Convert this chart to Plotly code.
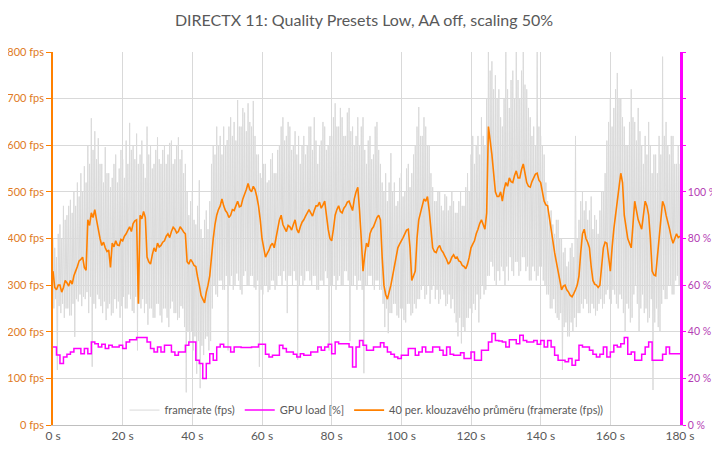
import plotly.graph_objects as go

title_text = "DIRECTX 11: Quality Presets Low, AA off, scaling 50%"

# framerate samples every 0.25 s (fps), one row per 5 s
framerate = [
    400, 250, 380, 270, 360, 118, 410, 255, 430, 240, 400, 260, 470, 230, 440, 250, 450, 250, 470, 235,
    483, 235, 455, 260, 500, 189, 470, 270, 520, 265, 490, 280, 540, 255, 500, 275, 555, 270, 520, 285,
    600, 240, 560, 275, 658, 125, 590, 260, 630, 250, 570, 280, 615, 270, 560, 255, 560, 240, 520, 265,
    596, 225, 540, 250, 540, 260, 510, 235, 530, 240, 560, 270, 580, 250, 520, 265, 550, 230, 590, 255,
    570, 275, 530, 250, 610, 250, 560, 280, 648, 270, 590, 245, 600, 240, 570, 275, 625, 160, 560, 260,
    580, 250, 610, 270, 560, 240, 530, 260, 640, 215, 580, 250, 600, 250, 550, 230, 560, 230, 590, 260,
    617, 260, 570, 235, 560, 220, 590, 250, 600, 250, 560, 230, 580, 210, 605, 250, 610, 265, 560, 240,
    570, 240, 600, 225, 617, 230, 570, 255, 590, 250, 540, 210, 560, 70, 500, 200, 450, 180, 480, 200,
    500, 160, 440, 190, 430, 110, 470, 180, 525, 79, 420, 170, 400, 150, 440, 185, 460, 190, 420, 160,
    480, 180, 560, 250, 600, 300, 580, 280, 640, 275, 600, 310, 620, 310, 580, 290, 640, 290, 600, 320,
    611, 160, 640, 300, 660, 320, 620, 290, 650, 300, 610, 325, 697, 310, 640, 290, 640, 280, 680, 320,
    670, 330, 630, 300, 690, 300, 650, 320, 640, 320, 695, 295, 620, 290, 580, 310, 580, 125, 540, 290,
    530, 280, 560, 300, 560, 300, 520, 285, 525, 290, 570, 310, 583, 310, 540, 290, 540, 300, 590, 320,
    600, 320, 640, 300, 660, 330, 610, 310, 620, 240, 650, 320, 640, 320, 590, 300, 600, 330, 630, 310,
    580, 140, 620, 300, 560, 320, 600, 300, 620, 310, 580, 330, 600, 330, 640, 310, 640, 300, 590, 320,
    660, 320, 610, 290, 560, 290, 600, 310, 610, 310, 650, 300, 640, 330, 590, 315, 600, 160, 620, 300,
    620, 300, 660, 320, 690, 290, 640, 310, 640, 320, 680, 300, 660, 300, 620, 330, 620, 330, 670, 310,
    680, 180, 630, 300, 640, 300, 600, 320, 620, 290, 660, 310, 600, 310, 640, 290, 660, 111, 590, 300,
    560, 300, 610, 320, 620, 320, 570, 300, 580, 290, 640, 310, 650, 310, 590, 290, 560, 290, 520, 260,
    500, 210, 540, 250, 480, 197, 520, 240, 583, 240, 500, 260, 520, 260, 470, 235, 480, 230, 530, 250,
    540, 250, 490, 225, 500, 220, 550, 260, 560, 260, 510, 235, 540, 240, 580, 260, 600, 250, 640, 270,
    682, 270, 620, 290, 620, 300, 660, 270, 640, 280, 600, 300, 600, 260, 540, 290, 510, 300, 480, 270,
    480, 290, 500, 260, 500, 270, 470, 290, 460, 280, 495, 255, 490, 260, 460, 280, 470, 250, 500, 270,
    480, 240, 455, 220, 455, 190, 480, 230, 500, 175, 470, 210, 470, 200, 510, 230, 540, 230, 500, 250,
    580, 240, 620, 260, 560, 247, 600, 280, 620, 220, 580, 270, 660, 300, 620, 280, 600, 290, 700, 320,
    800, 320, 760, 350, 780, 340, 720, 310, 750, 300, 700, 330, 720, 310, 660, 340, 640, 330, 700, 300,
    800, 340, 720, 310, 680, 360, 740, 330, 760, 320, 700, 350, 800, 350, 740, 320, 700, 330, 760, 360,
    800, 360, 730, 330, 720, 340, 680, 310, 660, 310, 620, 340, 640, 330, 600, 310, 800, 320, 640, 340,
    620, 340, 600, 310, 580, 300, 520, 280, 480, 280, 450, 250, 460, 250, 430, 270, 410, 240, 440, 230,
    440, 225, 400, 240, 400, 118, 370, 210, 380, 220, 340, 190, 350, 190, 380, 220, 390, 200, 360, 230,
    620, 210, 400, 240, 440, 240, 480, 260, 500, 250, 460, 270, 480, 260, 440, 240, 460, 240, 490, 260,
    420, 250, 450, 235, 440, 245, 410, 260, 460, 270, 500, 250, 500, 260, 540, 280, 610, 290, 650, 270,
    700, 260, 640, 290, 680, 280, 720, 260, 755, 250, 700, 280, 700, 270, 660, 240, 640, 200, 600, 260,
    600, 250, 650, 220, 720, 230, 660, 280, 650, 300, 610, 260, 680, 200, 630, 250, 600, 280, 560, 240,
    620, 250, 580, 220, 650, 230, 600, 270, 540, 75, 580, 220, 580, 250, 540, 210, 620, 200, 580, 260,
    790, 290, 620, 270, 650, 270, 600, 300, 580, 300, 620, 280, 620, 280, 560, 310, 560, 320, 600, 300,
    560,
]

# 40-period moving average, samples every 0.5 s (fps)
moving_avg = [
    330, 295, 290, 300, 300, 285, 295, 310, 305, 298, 310, 302, 320, 330, 340, 352, 355, 360, 338, 332,
    440, 428, 455, 445, 462, 440, 420, 400, 385, 392, 380, 372, 375, 338, 390, 382, 395, 386, 385, 398,
    395, 405, 410, 418, 425, 415, 432, 438, 440, 260, 450, 442, 458, 445, 360, 350, 345, 365, 380, 372,
    390, 382, 385, 392, 395, 405, 410, 402, 415, 424, 420, 412, 415, 425, 420, 414, 410, 350, 345, 355,
    350, 342, 340, 318, 300, 278, 270, 262, 285, 300, 320, 360, 400, 430, 450, 462, 470, 485, 470, 460,
    455, 445, 450, 462, 460, 470, 480, 468, 470, 485, 495, 505, 518, 505, 500, 512, 505, 490, 470, 440,
    400, 380, 360, 368, 375, 385, 390, 380, 400, 420, 440, 450, 430, 422, 415, 428, 425, 418, 430, 440,
    420, 412, 425, 435, 440, 448, 455, 462, 455, 448, 460, 470, 470, 478, 465, 472, 480, 450, 420, 400,
    395, 420, 450, 462, 470, 458, 455, 465, 470, 478, 480, 470, 460, 485, 500, 510, 460, 400, 330, 365,
    390, 382, 410, 420, 425, 435, 445, 450, 440, 360, 300, 280, 270, 285, 300, 320, 340, 360, 380, 388,
    395, 402, 410, 418, 420, 380, 310, 320, 330, 400, 440, 455, 470, 485, 480, 490, 460, 420, 380, 372,
    370, 380, 385, 375, 370, 362, 355, 345, 350, 360, 365, 358, 360, 352, 350, 342, 340, 335, 345, 360,
    380, 388, 395, 410, 420, 432, 440, 430, 420, 455, 640, 610, 580, 540, 500, 490, 490, 500, 480, 505,
    520, 512, 530, 522, 520, 535, 545, 530, 530, 548, 560, 540, 520, 512, 510, 522, 530, 538, 540, 525,
    520, 500, 480, 472, 470, 445, 420, 395, 370, 350, 330, 310, 290, 298, 300, 290, 285, 278, 275, 282,
    290, 300, 320, 370, 410, 420, 400, 392, 380, 340, 310, 302, 300, 295, 300, 340, 380, 392, 390, 360,
    330, 380, 420, 450, 480, 510, 540, 520, 450, 425, 400, 390, 380, 430, 480, 460, 440, 430, 420, 450,
    480, 470, 450, 400, 330, 322, 320, 360, 400, 440, 480, 470, 450, 435, 420, 402, 390, 400, 410, 402,
    405,
]

# GPU load, samples every 1 s (%)
gpu_load = [
    33.5, 30.0, 26.4, 29.2, 30.3, 31.3, 32.8, 32.8, 30.6, 32.8,
    30.6, 35.6, 34.9, 33.5, 34.6, 32.8, 34.2, 33.5, 33.5, 34.2,
    32.8, 35.6, 36.6, 36.6, 37.5, 37.5, 37.5, 35.6, 32.8, 31.3,
    33.5, 31.3, 34.2, 34.2, 31.3, 29.9, 31.3, 31.3, 34.2, 35.6,
    35.6, 27.8, 26.4, 20.0, 26.4, 30.6, 27.8, 33.5, 34.6, 33.5,
    33.5, 31.3, 33.5, 33.5, 33.2, 33.2, 33.2, 33.5, 33.5, 34.6,
    34.6, 30.3, 29.2, 29.9, 29.9, 34.2, 32.8, 31.3, 31.3, 30.3,
    29.2, 30.6, 29.9, 29.9, 31.3, 31.3, 33.5, 32.1, 33.5, 34.6,
    30.6, 35.6, 34.9, 34.9, 34.9, 33.5, 24.9, 33.5, 36.3, 34.2,
    32.1, 32.1, 33.5, 33.5, 35.3, 33.5, 31.3, 30.3, 29.2, 28.5,
    29.9, 29.9, 32.8, 32.8, 29.9, 31.3, 33.5, 31.3, 31.3, 33.5,
    33.5, 32.1, 29.9, 33.5, 30.3, 29.9, 29.9, 31.0, 28.5, 28.5,
    31.3, 27.8, 27.8, 32.1, 32.1, 35.6, 39.2, 36.3, 36.0, 35.6,
    33.5, 36.6, 36.6, 34.9, 38.5, 36.3, 35.6, 35.6, 36.3, 34.6,
    36.3, 33.5, 36.3, 33.5, 29.9, 27.8, 27.8, 27.1, 28.5, 25.6,
    27.8, 34.2, 33.5, 33.5, 32.1, 30.3, 29.2, 30.3, 33.5, 29.2,
    31.3, 34.2, 33.5, 34.9, 37.5, 30.3, 31.3, 27.8, 27.8, 30.3,
    33.5, 35.6, 27.8, 27.8, 27.8, 30.3, 33.5, 30.6, 30.6, 30.6,
    30.6,
]

t_fr = [i * 0.25 for i in range(len(framerate))]
t_avg = [i * 0.5 for i in range(len(moving_avg))]
t_gpu = [i * 1.0 for i in range(len(gpu_load))]

fps_ticks = [0, 100, 200, 300, 400, 500, 600, 700, 800]
fps_labels = [f"{v} fps" for v in fps_ticks]
pct_ticks = [0, 20, 40, 60, 80, 100, 120, 140, 160]
pct_labels = ["0\u202f%", "20\u202f%", "40\u202f%", "60\u202f%", "80\u202f%", "100\u202f%", "", "", ""]
time_ticks = [0, 20, 40, 60, 80, 100, 120, 140, 160, 180]
time_labels = [f"{v} s" for v in time_ticks]

FONT = "Lato, Roboto, sans-serif"

fig = go.Figure()
fig.add_trace(go.Scatter(x=t_fr, y=framerate, mode="lines", name="framerate (fps)",
                         line=dict(color="#DADADA", width=1, simplify=False)))
fig.add_trace(go.Scatter(x=t_gpu, y=gpu_load, mode="lines", name="GPU load [%]", yaxis="y2",
                         line=dict(color="#FF00FF", width=1.5, shape="hv", simplify=False)))
fig.add_trace(go.Scatter(x=t_avg, y=moving_avg, mode="lines",
                         name="40 per. klouzavého průměru (framerate (fps))",
                         line=dict(color="#FF8000", width=1.6, simplify=False)))

# page body adds an 8 px margin, so the figure is 712x447 and margins are shifted
fig.update_layout(
    width=712, height=447,
    margin=dict(l=45, r=40, t=44, b=30, autoexpand=False),
    paper_bgcolor="white", plot_bgcolor="white",
    font=dict(family=FONT, color="#595959", size=12),
    title=dict(text=title_text, x=0.5, xanchor="center", y=0.973, yanchor="middle",
               font=dict(family=FONT, size=16, color="#595959")),
    xaxis=dict(range=[0, 180], tickvals=time_ticks, ticktext=time_labels,
               showgrid=True, gridcolor="#D9D9D9", gridwidth=1,
               showline=True, linecolor="#BFBFBF", linewidth=1,
               ticks="", zeroline=False, automargin=False,
               tickfont=dict(size=12, color="#595959")),
    yaxis=dict(range=[0, 800], tickvals=fps_ticks, ticktext=fps_labels,
               showgrid=True, gridcolor="#D9D9D9", gridwidth=1,
               showline=True, linecolor="#FF8000", linewidth=1.5,
               ticks="outside", ticklen=5, tickcolor="#FF8000", automargin=False,
               zeroline=False, tickfont=dict(size=11, color="#E07B24")),
    yaxis2=dict(range=[0, 160], tickvals=pct_ticks, ticktext=pct_labels,
                overlaying="y", side="right", showgrid=False,
                showline=True, linecolor="#FF00FF", linewidth=2.5,
                ticks="outside", ticklen=3, tickcolor="#FF00FF", automargin=False,
                zeroline=False, tickfont=dict(size=10.5, color="#B43CB4")),
    legend=dict(orientation="h", x=0.5, xanchor="center", y=0.04, yanchor="middle",
                bgcolor="rgba(0,0,0,0)", font=dict(size=11, color="#595959"),
                itemwidth=30, tracegroupgap=0),
    showlegend=True,
)

fig.write_html("out.html")
